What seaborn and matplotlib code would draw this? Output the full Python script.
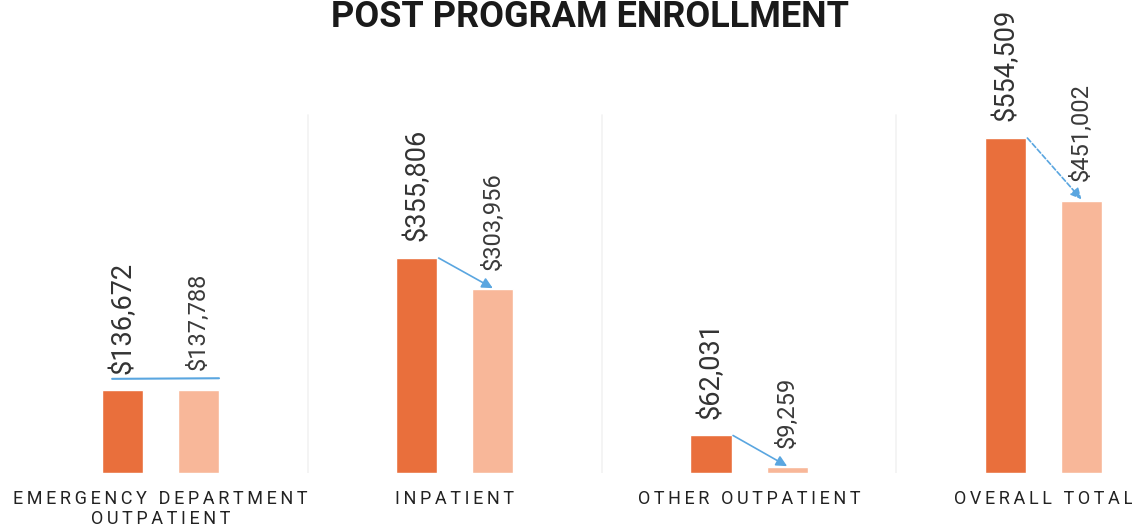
import pandas as pd
import numpy as np
import matplotlib.pyplot as plt
import seaborn as sns

categories = ['EMERGENCY DEPARTMENT\nOUTPATIENT', 'INPATIENT', 'OTHER OUTPATIENT', 'OVERALL TOTAL']
pre_costs = [136672, 355806, 62031, 554509]
post_costs = [137788, 303956, 9259, 451002]
periods = ['Pre', 'Post']

df = pd.DataFrame({
    'category': categories * 2,
    'period': [periods[0]] * 4 + [periods[1]] * 4,
    'cost': pre_costs + post_costs,
})

sns.set_style('white')
plt.rcParams['font.family'] = ['Roboto', 'DejaVu Sans']

dark = '#E96F3C'
light = '#F8B799'
arrow_c = '#5AA6E0'


def spaced(s):
    # wide letter spacing like the original axis labels
    return '\n'.join('\u2009'.join(w) for w in s.split('\n'))


fig = plt.figure(figsize=(11.32, 5.32), dpi=100)
ax = fig.add_axes([0, 0.111, 1, 0.889])
sns.barplot(data=df, x='category', y='cost', hue='period', palette=[dark, light],
            width=0.517, gap=0.46, legend=False, ax=ax, saturation=1)
ax.set_xlim(-0.545, 3.301)
ax.set_ylim(0, 783000)
sns.despine(ax=ax, left=True, bottom=True)
ax.set_yticks([])
ax.set_xlabel('')
ax.set_ylabel('')
ax.tick_params(axis='x', length=0, pad=12)
ax.set_xticks(range(4))
ax.set_xticklabels([spaced(c) for c in categories], fontsize=13, color='#222222',
                   linespacing=1.15)

# faint panel separators
for xs in [0.5, 1.5, 2.5]:
    ax.plot([xs, xs], [0, 592000], color='#f2f2f2', lw=1.2, zorder=0)

bars = ax.patches
pre_bars = bars[:4]
post_bars = bars[4:8]

for b, v in zip(pre_bars, pre_costs):
    ax.annotate(f'${v:,.0f}', (b.get_x() + b.get_width() / 2, b.get_height()),
                xytext=(0, 12), textcoords='offset points', rotation=90,
                ha='center', va='bottom', fontsize=19.5, color='#333333')
for b, v in zip(post_bars, post_costs):
    ax.annotate(f'${v:,.0f}', (b.get_x() + b.get_width() / 2, b.get_height()),
                xytext=(0, 14), textcoords='offset points', rotation=90,
                ha='center', va='bottom', fontsize=17, color='#3a3a3a')

# arrows from pre to post
for i, (pb, qb) in enumerate(zip(pre_bars, post_bars)):
    if i == 0:
        y = max(pb.get_height(), qb.get_height()) + 18000
        ax.plot([pb.get_x() + 0.035, qb.get_x() + qb.get_width()], [y, y + 1000],
                color=arrow_c, lw=1.5)
        continue
    start = (pb.get_x() + pb.get_width() + 0.005, pb.get_height())
    end = (qb.get_x() + qb.get_width() / 2, qb.get_height() + 2000)
    ls = (0, (3, 1.5)) if i == 3 else '-'
    ax.annotate('', xy=end, xytext=start,
                arrowprops=dict(arrowstyle='-|>', color=arrow_c, lw=1.2,
                                linestyle=ls, mutation_scale=16, shrinkA=0, shrinkB=0))

fig.text(0.521, 1 - 27 / 532, 'POST PROGRAM ENROLLMENT', ha='center', va='baseline',
         fontsize=26, fontweight='bold', color='#1a1a1a')

plt.savefig('out.png', dpi=100)
